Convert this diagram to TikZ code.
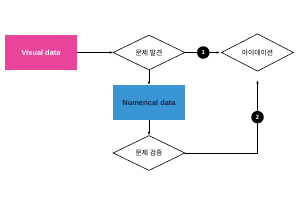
\documentclass[tikz,border=0pt]{standalone}
\usepackage{fontspec}
\setmainfont{Liberation Sans}
\newfontfamily\kofont{Noto Sans CJK KR}
\usetikzlibrary{shapes.geometric,arrows.meta}

\definecolor{pinkbox}{HTML}{E8449A}
\definecolor{bluebox}{HTML}{3A95D4}
\definecolor{navytext}{HTML}{14284A}

\tikzset{
	databox/.style={rectangle,minimum width=72pt,minimum height=35pt,inner sep=0pt,font=\fontsize{7.4}{8}\selectfont\bfseries},
	decide/.style={diamond,draw,line width=0.6pt,minimum width=72pt,minimum height=35pt,inner sep=0pt,font=\kofont\fontsize{6.8}{7}\selectfont},
	num/.style={circle,fill=black,text=white,minimum size=12.5pt,inner sep=0pt,font=\fontsize{6}{6}\selectfont\bfseries},
	link/.style={line width=0.7pt,-{Latex[length=3pt,width=2.6pt]}}
}

\begin{document}
\begin{tikzpicture}[x=1pt,y=-1pt]
	\useasboundingbox (0,0) rectangle (300,206);

	\node[databox,fill=pinkbox,text=white] (visual) at (41,52.5) {Visual data};
	\node[decide] (find) at (149,52.5) {문제 발견};
	\node[decide] (idea) at (257.5,52.5) {아이데이션};
	\node[databox,fill=bluebox,text=navytext] (numeric) at (149,102.5) {Numerical data};
	\node[decide] (check) at (149,153) {문제 검증};

	\draw[link] (visual) -- (find);
	\draw[link,shorten >=1.5pt] (find) -- node[num]{1} (idea);
	\draw[link] (find) -- (numeric);
	\draw[link] (numeric) -- (check);
	\draw[link,shorten >=9pt] (check.east) -| node[num,pos=0.72]{2} (idea.south);
\end{tikzpicture}
\end{document}
